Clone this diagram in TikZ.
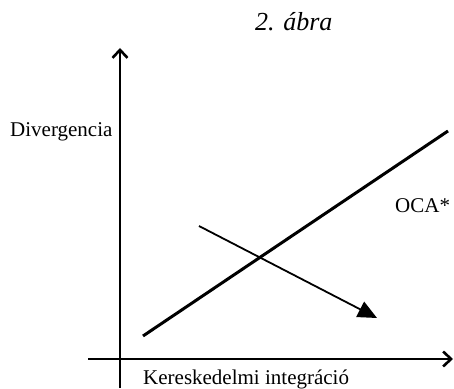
\documentclass[tikz,border=0pt]{standalone}
\usepackage{fontspec}
\setmainfont{Liberation Serif}
\usetikzlibrary{arrows.meta}

\begin{document}
\begin{tikzpicture}[x=1pt,y=1pt,
    axisline/.style={line width=1.4pt,-{Straight Barb[length=8pt,width=15pt,line width=2.6pt]}},
    lbl/.style={font=\fontsize{21}{25}\selectfont,inner sep=0pt,anchor=base west}]
        \useasboundingbox (0,0) rectangle (454,388);
        % axes
        \coordinate (yfoot) at (120,0); \coordinate (ytop) at (120,340);
        \coordinate (xfoot) at (88,29); \coordinate (xtop) at (453,29);
        \draw[axisline] (yfoot) -- (ytop);
        \draw[axisline] (xfoot) -- (xtop);
        % lines
        \coordinate (ocaA) at (143,52); \coordinate (ocaB) at (448,257);
        \draw[line width=3pt] (ocaA) -- (ocaB);
        \coordinate (shiftA) at (199,162); \coordinate (shiftB) at (377,70);
        \draw[line width=1.8pt,-{Triangle[length=19pt,width=17pt]}] (shiftA) -- (shiftB);
        % labels
        \node[lbl] (title) at (255,357) {\fontsize{26}{30}\selectfont\itshape 2. ábra};
        \node[lbl] (ylabel) at (10,251) {Divergencia};
        \node[lbl] (oca) at (395,175) {OCA*};
        \node[lbl] (xlabel) at (143,4) {Kereskedelmi integráció};
    \end{tikzpicture}
\end{document}
